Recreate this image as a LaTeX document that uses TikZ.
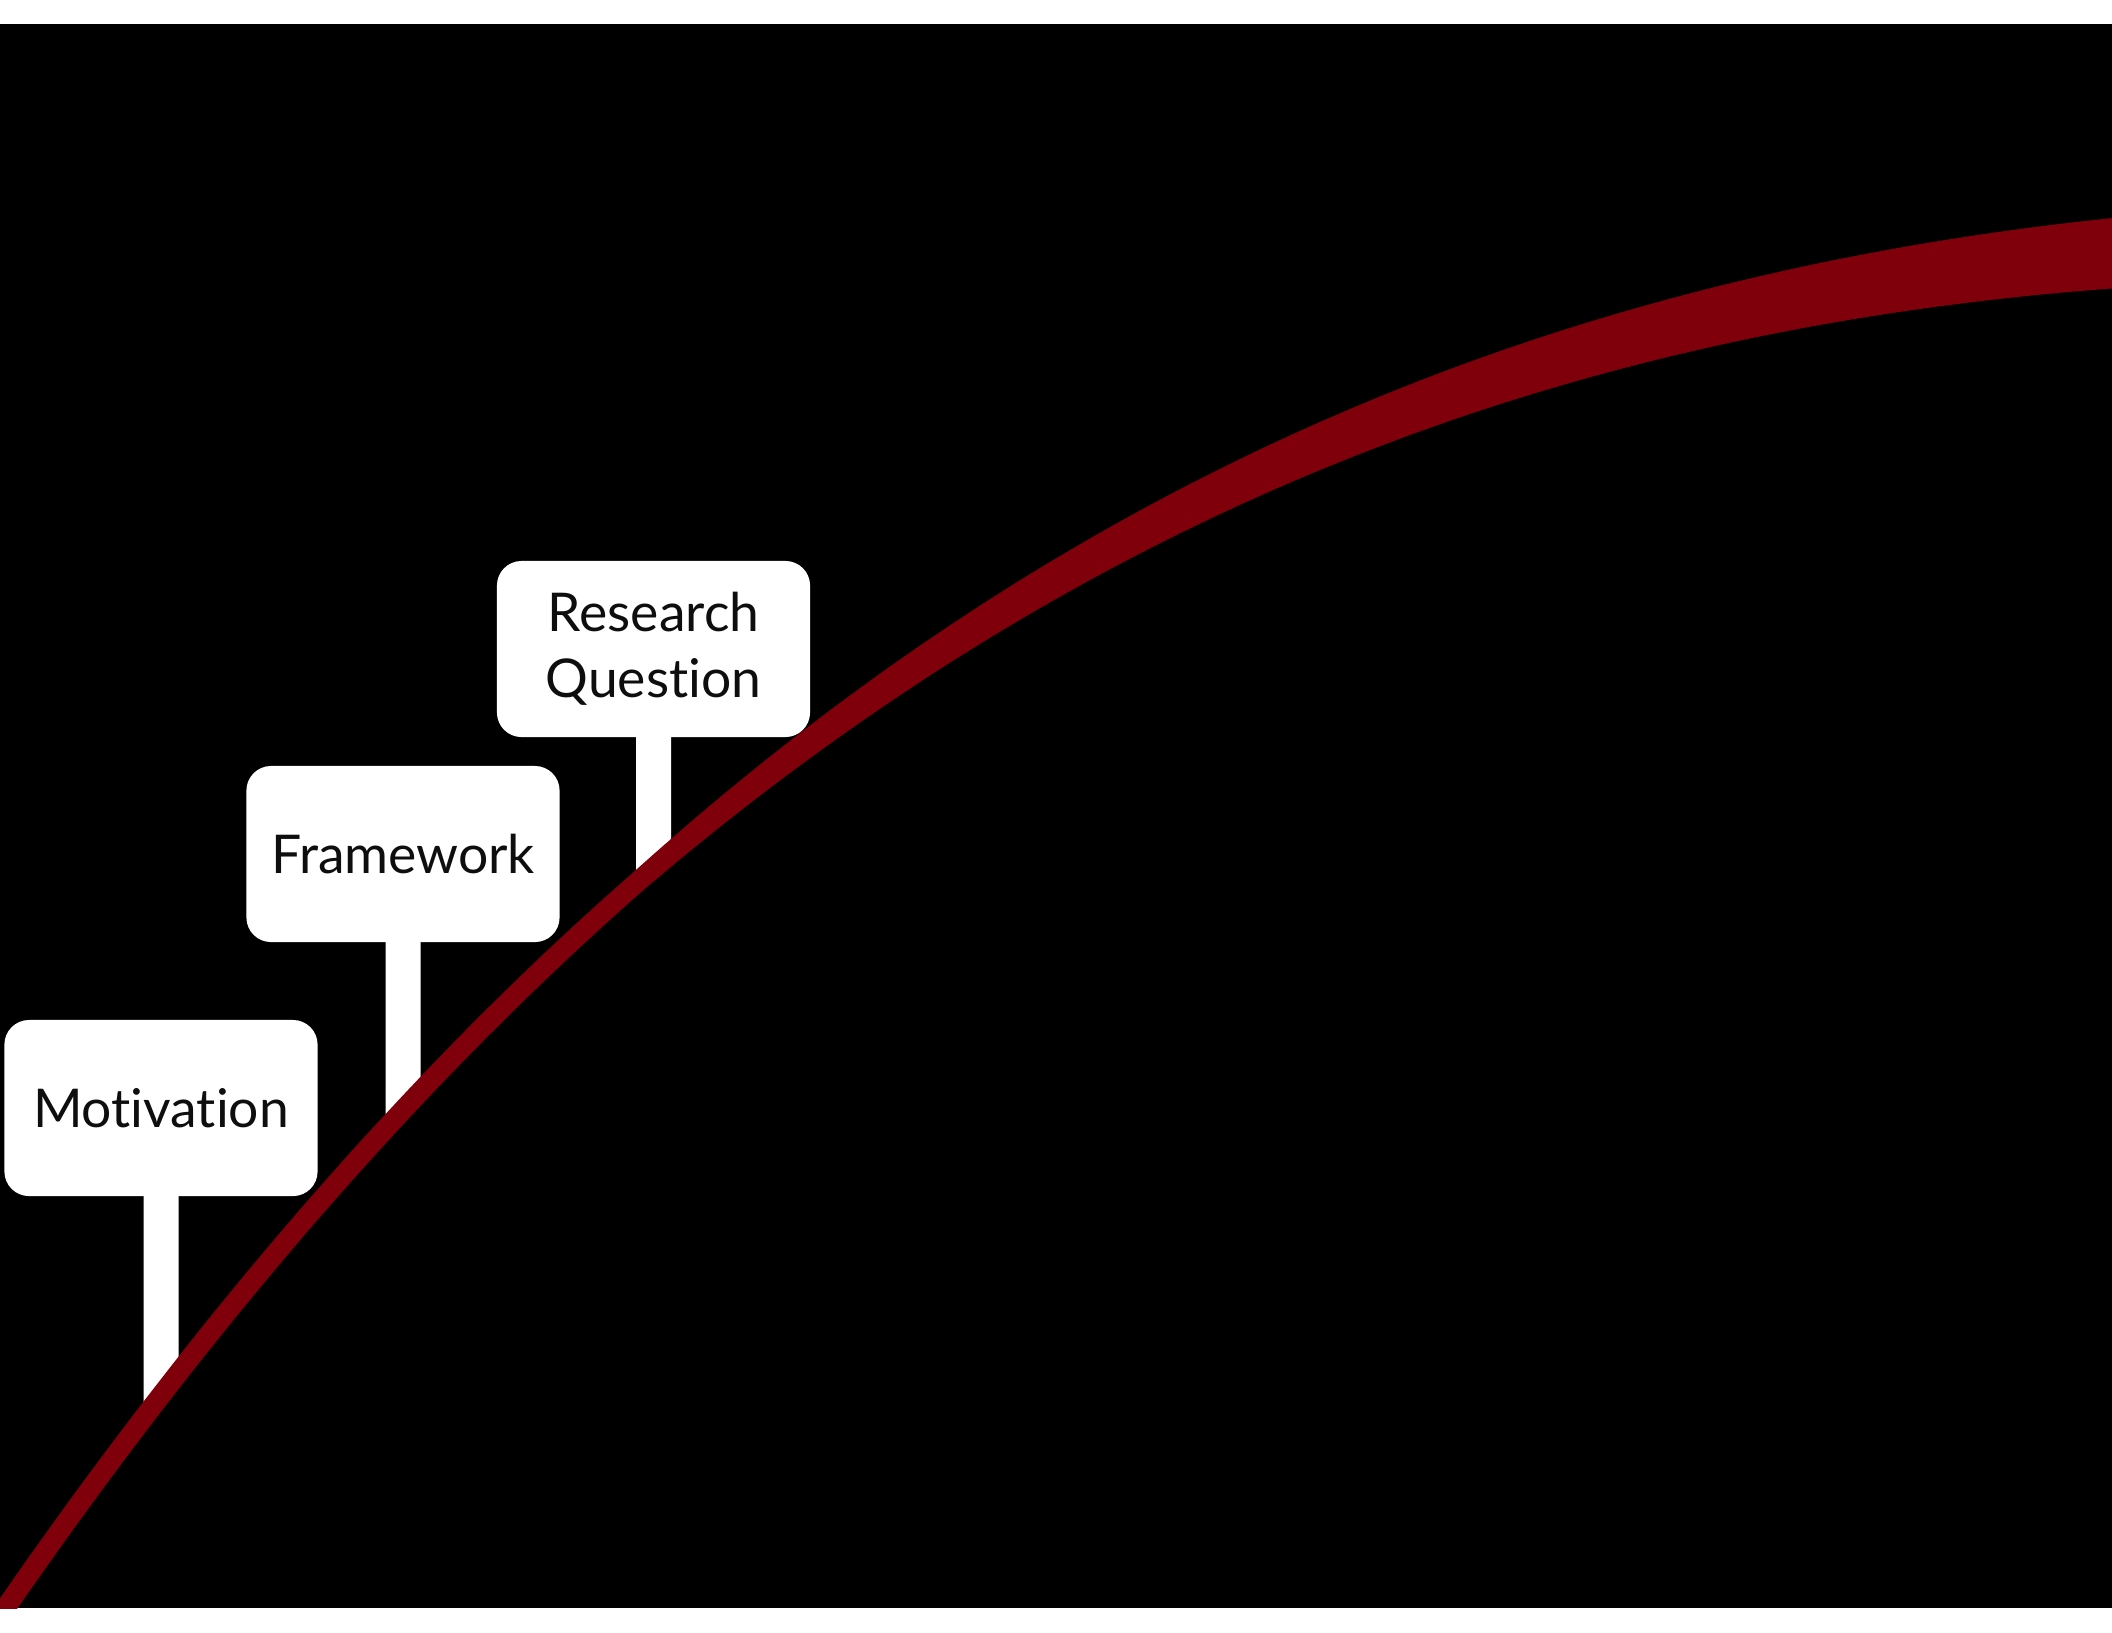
\documentclass[tikz,border=0pt]{standalone}
\usepackage{fontspec}
\setmainfont{Lato}[Ligatures={NoCommon,NoRare,NoContextual}]
\usetikzlibrary{calc}
\definecolor{bandred}{RGB}{127,0,10}
\definecolor{signink}{RGB}{14,14,14}
\begin{document}
\begin{tikzpicture}[x=0.01cm,y=-0.01cm,
  signbox/.style={fill=white, rounded corners=7pt, minimum width=3.13cm,
    minimum height=1.76cm, inner sep=0pt, align=center, text=signink,
    font=\fontsize{15.2}{18.8}\selectfont},
  signpost/.style={fill=white},
  band/.style={fill=bandred},
  % centre line of the red band (a cubic) and its widening thickness
  declare function={
    bx(\u)=3*(1-\u)^2*\u*650+3*(1-\u)*\u^2*1340+\u^3*2140;
    by(\u)=(1-\u)^3*1616+3*(1-\u)^2*\u*673.5+3*(1-\u)*\u^2*315+\u^3*251;
    tx(\u)=3*(1-\u)^2*0.65+6*(1-\u)*\u*0.69+3*\u^2*0.8;
    ty(\u)=-3*(1-\u)^2*0.9425-6*(1-\u)*\u*0.3585-3*\u^2*0.064;
    tl(\u)=sqrt(tx(\u)^2+ty(\u)^2);
    bw(\u)=20+51*max(0,(\u-0.32)/0.68);
  }]
% page and black stage
\fill[white] (0,0) rectangle (2112,1632);
\useasboundingbox (0,0) rectangle (2112,1632);
\fill[black] (0,24) rectangle (2112,1608);

% signs
\node[signbox] (mot) at (161,1108) {Motivation};
\node[signbox] (fw)  at (403,854)  {Framework};
\node[signbox] (rq)  at (653.5,649) {Research\\Question};

% feet of the posts, inside the red band
\coordinate (motL) at (143.5,1418);
\coordinate (motR) at (178.5,1372);
\coordinate (fwL)  at (385.5,1128);
\coordinate (fwR)  at (420.5,1091);
\coordinate (rqL)  at (636,883);
\coordinate (rqR)  at (671,853);

% posts
\fill[signpost] (mot.south) ++(-17.5,-4) -- ++(35,0) -- (motR) -- (motL) -- cycle;
\fill[signpost] (fw.south)  ++(-17.5,-4) -- ++(35,0) -- (fwR)  -- (fwL)  -- cycle;
\fill[signpost] (rq.south)  ++(-17.5,-4) -- ++(35,0) -- (rqR)  -- (rqL)  -- cycle;

% the widening red curve
\begin{scope}
\clip (0,24) rectangle (2112,1608);
\fill[band]
  plot[domain=-0.02:1.01, samples=140, variable=\t]
    ({bx(\t)+bw(\t)/2*ty(\t)/tl(\t)}, {by(\t)-bw(\t)/2*tx(\t)/tl(\t)})
  -- plot[domain=1.01:-0.02, samples=140, variable=\t]
    ({bx(\t)-bw(\t)/2*ty(\t)/tl(\t)}, {by(\t)+bw(\t)/2*tx(\t)/tl(\t)})
  -- cycle;
\end{scope}
\end{tikzpicture}
\end{document}
